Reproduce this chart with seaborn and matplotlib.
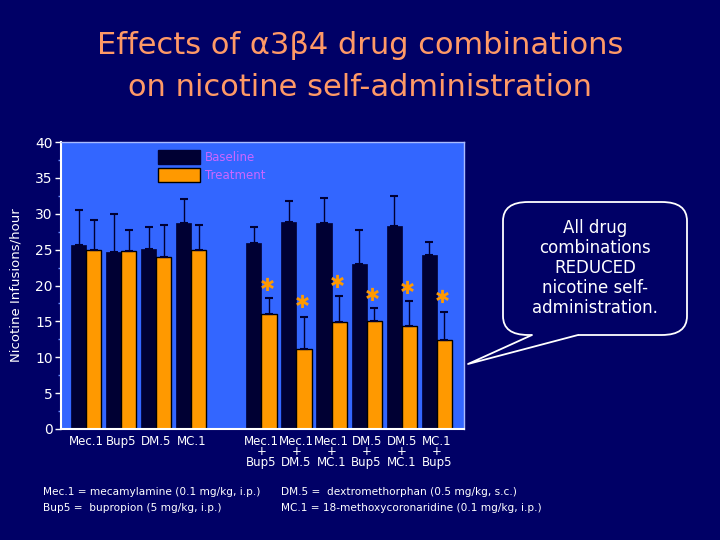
import numpy as np
import pandas as pd
import matplotlib
matplotlib.use("Agg")
import matplotlib.pyplot as plt
import seaborn as sns
from matplotlib.patches import FancyBboxPatch, Polygon
from matplotlib.lines import Line2D

# ---------------- data ----------------
categories = ["Mec.1", "Bup5", "DM.5", "MC.1", " ",
              "Mec.1\n+\nBup5", "Mec.1\n+\nDM.5", "Mec.1\n+\nMC.1",
              "DM.5\n+\nBup5", "DM.5\n+\nMC.1", "MC.1\n+\nBup5"]
drug_cats = [c for c in categories if c.strip()]
baseline = [25.7, 24.7, 25.1, 28.7, 25.9, 28.8, 28.7, 23.0, 28.3, 24.2]
baseline_err = [4.8, 5.2, 3.1, 3.3, 2.2, 3.0, 3.5, 4.8, 4.2, 1.8]
treatment = [25.0, 24.8, 24.0, 25.0, 16.0, 11.1, 14.9, 15.0, 14.4, 12.4]
treatment_err = [4.1, 2.9, 4.4, 3.5, 2.2, 4.5, 3.7, 1.9, 3.4, 3.9]
star_y = [19.9, 17.6, 20.4, 18.6, 19.5, 18.2]
conditions = ["Baseline", "Treatment"]
yticks = [0, 5, 10, 15, 20, 25, 30, 35, 40]

NAVY = "#000066"
PLOT_BG = "#3366FF"
DARK = "#000033"
ORANGE = "#FF9900"
TITLE_C = "#FF9966"
LEG_TXT = "#CC66FF"

df = pd.DataFrame({
    "cat": drug_cats * 2,
    "cond": ["Baseline"] * len(drug_cats) + ["Treatment"] * len(drug_cats),
    "val": baseline + treatment,
})
err_map = {("Baseline", c): e for c, e in zip(drug_cats, baseline_err)}
err_map.update({("Treatment", c): e for c, e in zip(drug_cats, treatment_err)})

sns.set_style("white")
plt.rcParams["font.family"] = ["DejaVu Sans"]

fig = plt.figure(figsize=(7.2, 5.4), dpi=100, facecolor=NAVY)
ax = fig.add_axes([61 / 720, 1 - 429 / 540, 403 / 720, 287 / 540])
ax.set_facecolor(PLOT_BG)

sns.barplot(data=df, x="cat", y="val", hue="cond", order=categories,
            hue_order=conditions, palette=[DARK, ORANGE], width=0.86,
            errorbar=None, ax=ax, saturation=1, legend=False)

# style bars and add upper-only error bars
for cond, cont in zip(conditions, ax.containers):
    for p in cont.patches:
        h = p.get_height()
        if np.isnan(h):
            continue
        xc = p.get_x() + p.get_width() / 2
        cat = categories[int(round(xc))]
        if cond == "Treatment":
            p.set_edgecolor("black")
            p.set_linewidth(1.0)
        else:
            p.set_edgecolor(DARK)
            p.set_linewidth(0.5)
        e = err_map[(cond, cat)]
        ax.errorbar(xc, h, yerr=[[0], [e]], fmt="none", ecolor=DARK,
                    elinewidth=1.0, capsize=3, capthick=1.5, zorder=3)
        if cond == "Treatment" and "+" in cat:
            i = [c for c in drug_cats if "+" in c].index(cat)
            ax.text(xc - 0.05, star_y[i], "\u2731", color=ORANGE, fontsize=13,
                    ha="center", va="center", zorder=4)

ax.set_xlim(-0.72, 10.78)
ax.set_ylim(0, 40)
ax.set_yticks(yticks)
ax.set_yticks(np.arange(2.5, 40, 5), minor=True)
ax.tick_params(axis="y", which="major", direction="out", length=4, width=1,
               colors="white", labelsize=10, left=True, pad=2)
ax.tick_params(axis="y", which="minor", direction="out", length=2, width=1,
               colors="#6688FF", left=True)
ax.tick_params(axis="x", length=0, colors="white", labelsize=8.5, pad=4)
for lab in ax.get_xticklabels():
    lab.set_linespacing(0.75)
ax.set_xlabel("")
ax.set_ylabel("Nicotine Infusions/hour", color="white", fontsize=9.5, labelpad=9)
for side in ["top", "right"]:
    ax.spines[side].set_color("#AABBFF")
    ax.spines[side].set_linewidth(1)
for side in ["left", "bottom"]:
    ax.spines[side].set_color("white")
    ax.spines[side].set_linewidth(1.5)

# legend
handles = [plt.Rectangle((0, 0), 1, 1, facecolor=DARK, edgecolor=DARK),
           plt.Rectangle((0, 0), 1, 1, facecolor=ORANGE, edgecolor="black")]
leg = ax.legend(handles, conditions, loc="upper left",
                bbox_to_anchor=(0.22, 1.0), frameon=False, fontsize=8.5,
                handlelength=3.6, handleheight=1.4, labelspacing=0.35,
                handletextpad=0.4, borderaxespad=0.3)
for t in leg.get_texts():
    t.set_color(LEG_TXT)

# title
fig.text(0.5, 1 - 45 / 540, "Effects of \u03b13\u03b24 drug combinations",
         color=TITLE_C, fontsize=22, ha="center", va="center")
fig.text(0.5, 1 - 88 / 540, "on nicotine self-administration",
         color=TITLE_C, fontsize=22, ha="center", va="center")

# speech bubble
W, H = 720, 540
bx0, by0, bx1, by1 = 503, 202, 687, 335
bubble = FancyBboxPatch((bx0 / W, 1 - by1 / H), (bx1 - bx0) / W, (by1 - by0) / H,
                        boxstyle="round,pad=0,rounding_size=0.035",
                        transform=fig.transFigure, facecolor=NAVY,
                        edgecolor="white", linewidth=1.3, zorder=5)
fig.add_artist(bubble)
tip = (468 / W, 1 - 364 / H)
b1 = (532 / W, 1 - 335 / H)
b2 = (578 / W, 1 - 335 / H)
tail = Polygon([b1, tip, b2, (578 / W, 1 - 333 / H), (532 / W, 1 - 333 / H)],
               closed=True, transform=fig.transFigure, facecolor=NAVY,
               edgecolor="none", zorder=6)
fig.add_artist(tail)
fig.add_artist(Line2D([b1[0], tip[0], b2[0]], [b1[1], tip[1], b2[1]],
                      transform=fig.transFigure, color="white", lw=1.3, zorder=7))
fig.text(595 / W, 1 - 268 / H,
         "All drug\ncombinations\nREDUCED\nnicotine self-\nadministration.",
         color="white", fontsize=12, ha="center", va="center",
         linespacing=1.15, zorder=8)

# footnotes
fig.text(43 / W, 1 - 492 / H, "Mec.1 = mecamylamine (0.1 mg/kg, i.p.)",
         color="white", fontsize=7.6, va="center")
fig.text(43 / W, 1 - 508 / H, "Bup5 =  bupropion (5 mg/kg, i.p.)",
         color="white", fontsize=7.6, va="center")
fig.text(281 / W, 1 - 492 / H, "DM.5 =  dextromethorphan (0.5 mg/kg, s.c.)",
         color="white", fontsize=7.6, va="center")
fig.text(281 / W, 1 - 508 / H, "MC.1 = 18-methoxycoronaridine (0.1 mg/kg, i.p.)",
         color="white", fontsize=7.6, va="center")

fig.savefig("out.png", dpi=100, facecolor=NAVY)
